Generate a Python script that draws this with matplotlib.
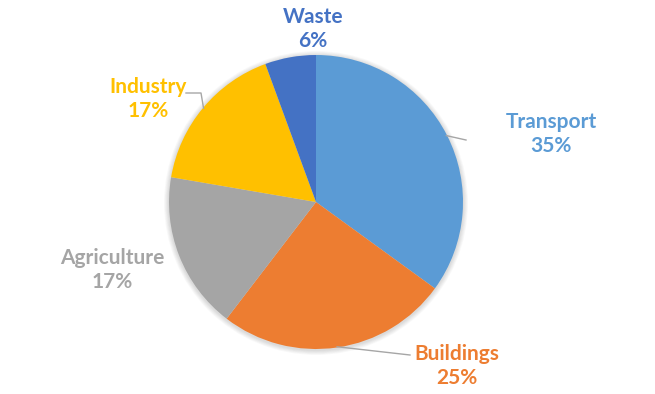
import matplotlib.pyplot as plt
import numpy as np

# data
sectors = ['Transport', 'Buildings', 'Agriculture', 'Industry', 'Waste']
shares = [35.0, 25.4, 17.3, 16.7, 5.6]      # slice sizes measured from the wedges
pct_labels = ['35%', '25%', '17%', '17%', '6%']
colours = ['#5B9BD5', '#ED7D31', '#A5A5A5', '#FFC000', '#4472C4']

# label anchors (pixel layout, y from top) and leader elbows
label_pos = [(551, 134), (457, 366), (112, 270), (148, 99), (313, 29)]
elbow_pos = [(466, 140), (410, 355), None, (201, 93), None]
line_end = [(466, 140), (410, 355), None, (186, 93), None]

W, H = 655, 394
cx, cy, r = 316, 202, 147

fig = plt.figure(figsize=(W / 100, H / 100), dpi=100)
ax = fig.add_axes([0, 0, 1, 1])

# soft shadow behind the pie
for k in range(6):
    ax.add_patch(plt.Circle((cx, H - cy - 1), r + 1 + k * 0.8, color='black',
                            alpha=0.025, lw=0, zorder=0))

wedges, _ = ax.pie(shares, colors=colours, startangle=90, counterclock=False,
                   center=(cx, H - cy), radius=r, frame=True,
                   wedgeprops=dict(linewidth=0))
ax.set_xlim(0, W)
ax.set_ylim(0, H)
ax.set_aspect('equal')
ax.axis('off')

for i, w in enumerate(wedges):
    mid = np.deg2rad((w.theta1 + w.theta2) / 2)
    if elbow_pos[i] is not None:
        ex, ey = cx + r * np.cos(mid) * 0.995, (H - cy) + r * np.sin(mid) * 0.995
        xs = [ex, elbow_pos[i][0], line_end[i][0]]
        ys = [ey, H - elbow_pos[i][1], H - line_end[i][1]]
        ax.plot(xs, ys, color='#A6A6A6', lw=1, zorder=3)
    lx, ly = label_pos[i]
    ax.text(lx, H - ly, f'{sectors[i]}\n{pct_labels[i]}', ha='center', va='center',
            color=colours[i], fontsize=15, fontweight='bold', family='Lato',
            linespacing=1.3)

fig.savefig('out.png', dpi=100)
